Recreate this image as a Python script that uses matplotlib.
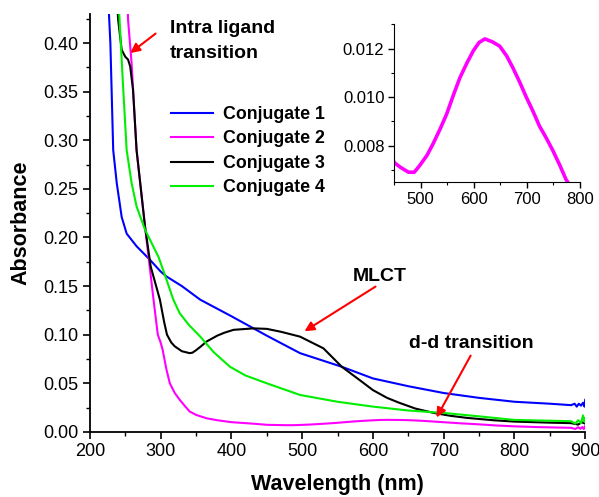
import numpy as np
import matplotlib
matplotlib.use("Agg")
import matplotlib.pyplot as plt
from matplotlib.ticker import MultipleLocator, FormatStrFormatter

plt.rcParams['font.family'] = ['Liberation Sans', 'DejaVu Sans']

# Conjugate 1 (blue)
c1_x = [222, 227, 229, 233, 238, 245, 252, 266, 285, 300, 308, 330, 356, 400, 450, 497,
        556, 600, 650, 700, 750, 800, 850, 870, 880, 885, 888, 891, 894, 897, 899, 900]
c1_y = [0.47, 0.43, 0.40, 0.29, 0.256, 0.221, 0.204, 0.191, 0.177, 0.165, 0.160, 0.150,
        0.136, 0.119, 0.099, 0.081, 0.067, 0.055, 0.047, 0.040, 0.035, 0.031, 0.029,
        0.028, 0.0275, 0.029, 0.026, 0.029, 0.027, 0.030, 0.026, 0.033]

# Conjugate 2 (magenta)
c2_x = [252, 254, 259, 266, 278, 290, 293, 296, 300, 303, 308, 313, 320, 327, 335, 341,
        350, 365, 380, 400, 430, 450, 462, 477, 488, 499, 512, 524, 537, 549, 562, 574,
        587, 599, 610, 621, 635, 649, 662, 674, 687, 699, 712, 724, 737, 749, 762, 774,
        800, 830, 860, 880, 886, 890, 893, 896, 898, 900]
c2_y = [0.47, 0.424, 0.379, 0.29, 0.211, 0.136, 0.118, 0.10, 0.092, 0.084, 0.065, 0.05,
        0.04, 0.033, 0.026, 0.021, 0.0175, 0.014, 0.012, 0.0100, 0.0085, 0.0073, 0.0071,
        0.0069, 0.0069, 0.0072, 0.0076, 0.0081, 0.0087, 0.0093, 0.0101, 0.0108, 0.0114,
        0.0119, 0.01225, 0.0124, 0.01228, 0.0121, 0.0117, 0.0112, 0.0106, 0.0100, 0.0094,
        0.0088, 0.0083, 0.0078, 0.0072, 0.0066, 0.0057, 0.0050, 0.0045, 0.0042, 0.0030,
        0.0048, 0.0032, 0.0050, 0.0030, 0.0060]

# Conjugate 3 (black)
c3_x = [236, 240, 245, 250, 254, 257, 261, 266, 278, 286, 299, 305, 309, 315, 320, 330,
        341, 345, 350, 357, 365, 380, 390, 403, 431, 450, 470, 497, 530, 556, 580, 600,
        620, 637, 660, 686, 710, 733, 770, 800, 850, 880, 890, 895, 900]
c3_y = [0.47, 0.424, 0.393, 0.386, 0.383, 0.376, 0.352, 0.29, 0.211, 0.17, 0.136, 0.113,
        0.10, 0.092, 0.088, 0.083, 0.081, 0.0815, 0.084, 0.088, 0.093, 0.099, 0.102,
        0.105, 0.1065, 0.106, 0.103, 0.098, 0.086, 0.067, 0.054, 0.043, 0.035, 0.030,
        0.024, 0.0195, 0.0165, 0.0144, 0.012, 0.0106, 0.0095, 0.009, 0.0075, 0.010, 0.0085]

# Conjugate 4 (green)
c4_x = [239, 242, 247, 252, 259, 266, 278, 297, 306, 318, 327, 340, 356, 375, 398, 420,
        450, 497, 550, 600, 650, 700, 750, 800, 850, 880, 886, 890, 894, 897, 899, 900]
c4_y = [0.46, 0.424, 0.355, 0.29, 0.256, 0.232, 0.208, 0.180, 0.1615, 0.136, 0.122,
        0.110, 0.098, 0.082, 0.067, 0.058, 0.050, 0.038, 0.031, 0.026, 0.022, 0.0195,
        0.016, 0.0123, 0.0115, 0.011, 0.0085, 0.012, 0.009, 0.017, 0.010, 0.014]

labels = ['Conjugate 1', 'Conjugate 2', 'Conjugate 3', 'Conjugate 4']
colors = ['#0000ff', '#ff00ff', '#000000', '#00ee00']

fig = plt.figure(figsize=(5.99, 4.97), dpi=100)
ax = fig.add_axes([0.150, 0.131, 0.827, 0.841])

series = [(c1_x, c1_y), (c2_x, c2_y), (c3_x, c3_y), (c4_x, c4_y)]
for (xs, ys), lab, col in zip(series, labels, colors):
    ax.plot(xs, ys, color=col, lw=1.5, label=lab)

ax.set_xlim(200, 900)
ax.set_ylim(0, 0.43)
ax.xaxis.set_major_locator(MultipleLocator(100))
ax.xaxis.set_minor_locator(MultipleLocator(50))
ax.yaxis.set_major_locator(MultipleLocator(0.05))
ax.yaxis.set_minor_locator(MultipleLocator(0.025))
ax.yaxis.set_major_formatter(FormatStrFormatter('%.2f'))
for s in ['top', 'right']:
    ax.spines[s].set_visible(False)
for s in ['left', 'bottom']:
    ax.spines[s].set_linewidth(1.3)
ax.tick_params(which='major', direction='out', length=5, width=1.2, labelsize=13, pad=3)
ax.tick_params(which='minor', direction='out', length=3, width=1.0)
ax.set_xlabel('Wavelength (nm)', fontsize=15.5, fontweight='bold', labelpad=10)
ax.set_ylabel('Absorbance', fontsize=15.5, fontweight='bold', labelpad=9)

leg = ax.legend(loc='upper left', bbox_to_anchor=(0.1636, 0.780), frameon=False,
                borderpad=0, borderaxespad=0,
                handlelength=2.36, handletextpad=0.56, labelspacing=0.42,
                prop={'weight': 'bold', 'size': 12.8})

# annotations
arrow = dict(arrowstyle='-|>', color='red', lw=1.5, mutation_scale=14)
ax.annotate('', xy=(254, 0.388), xytext=(296, 0.4115), arrowprops=arrow)
ax.text(313, 0.4105, 'Intra ligand', fontsize=14, fontweight='bold', va='baseline', ha='left')
ax.text(313, 0.385, 'transition', fontsize=14, fontweight='bold', va='baseline', ha='left')
ax.annotate('', xy=(500, 0.102), xytext=(607, 0.151), arrowprops=arrow)
ax.text(610, 0.155, 'MLCT', fontsize=14, fontweight='bold', ha='center', va='baseline')
ax.annotate('', xy=(688, 0.0123), xytext=(740, 0.081), arrowprops=arrow)
ax.text(739, 0.0864, 'd-d transition', fontsize=14, fontweight='bold', ha='center', va='baseline')

# inset
ins = fig.add_axes([0.658, 0.634, 0.310, 0.317])
ins.plot(c2_x, c2_y, color='#ff00ff', lw=2.6)
ins.set_xlim(450, 800)
ins.set_ylim(0.0065, 0.013)
ins.xaxis.set_major_locator(MultipleLocator(100))
ins.xaxis.set_minor_locator(MultipleLocator(50))
ins.yaxis.set_major_locator(MultipleLocator(0.002))
ins.yaxis.set_minor_locator(MultipleLocator(0.001))
ins.yaxis.set_major_formatter(FormatStrFormatter('%.3f'))
for s in ['top', 'right']:
    ins.spines[s].set_visible(False)
ins.tick_params(which='major', direction='out', length=4, width=1.0, labelsize=12, pad=3)
ins.tick_params(which='minor', direction='out', length=2.5, width=0.8)

fig.savefig('out.png', dpi=100)
